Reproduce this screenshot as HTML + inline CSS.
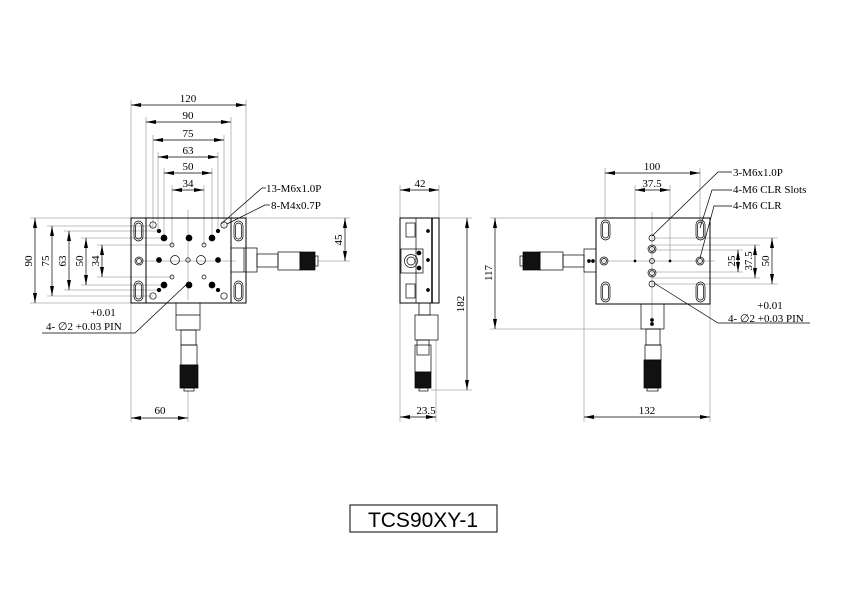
<!DOCTYPE html>
<html><head><meta charset="utf-8"><style>
html,body{margin:0;padding:0;background:#fff;}
svg{display:block;}
text{font-family:"Liberation Serif",serif;font-size:11px;fill:#000;}
</style></head><body>
<svg width="842" height="595" viewBox="0 0 842 595" xmlns="http://www.w3.org/2000/svg">
<defs>
<marker id="a" viewBox="0 0 10 4" refX="10" refY="2" markerWidth="10" markerHeight="4" orient="auto-start-reverse" markerUnits="userSpaceOnUse"><path d="M0,0 L10,2 L0,4z" fill="#000"/></marker>
</defs>
<g stroke="#000" stroke-width="0.7" fill="none">
<g stroke="#aaa" stroke-width="0.8">
<line x1="131" y1="100" x2="131" y2="218"/><line x1="246" y1="100" x2="246" y2="218"/>
<line x1="146" y1="117" x2="146" y2="218"/><line x1="231" y1="117" x2="231" y2="218"/>
<line x1="153" y1="135" x2="153" y2="228"/><line x1="224" y1="135" x2="224" y2="228"/>
<line x1="158" y1="152" x2="158" y2="231"/><line x1="218" y1="152" x2="218" y2="231"/>
<line x1="164" y1="168" x2="164" y2="238"/><line x1="212" y1="168" x2="212" y2="238"/>
<line x1="172" y1="185" x2="172" y2="245"/><line x1="204" y1="185" x2="204" y2="245"/>
<line x1="30" y1="218" x2="131" y2="218"/><line x1="30" y1="303" x2="131" y2="303"/>
<line x1="47" y1="226" x2="153" y2="226"/><line x1="47" y1="296" x2="153" y2="296"/>
<line x1="64" y1="231" x2="159" y2="231"/><line x1="64" y1="290" x2="159" y2="290"/>
<line x1="81" y1="238" x2="164" y2="238"/><line x1="81" y1="285" x2="164" y2="285"/>
<line x1="97" y1="245" x2="172" y2="245"/><line x1="97" y1="277" x2="172" y2="277"/>
<line x1="246" y1="218" x2="350" y2="218"/><line x1="318" y1="261" x2="350" y2="261"/>
<line x1="131" y1="303" x2="131" y2="422"/><line x1="188" y1="390" x2="188" y2="422"/>
<line x1="140" y1="261" x2="236" y2="261"/><line x1="188" y1="210" x2="188" y2="300"/>
</g>
<line x1="131" y1="105" x2="246" y2="105" marker-start="url(#a)" marker-end="url(#a)"/>
<line x1="146" y1="122" x2="231" y2="122" marker-start="url(#a)" marker-end="url(#a)"/>
<line x1="153" y1="140" x2="224" y2="140" marker-start="url(#a)" marker-end="url(#a)"/>
<line x1="158" y1="157" x2="218" y2="157" marker-start="url(#a)" marker-end="url(#a)"/>
<line x1="164" y1="173" x2="212" y2="173" marker-start="url(#a)" marker-end="url(#a)"/>
<line x1="172" y1="190" x2="204" y2="190" marker-start="url(#a)" marker-end="url(#a)"/>
<line x1="35" y1="218" x2="35" y2="303" marker-start="url(#a)" marker-end="url(#a)"/>
<line x1="52" y1="226" x2="52" y2="296" marker-start="url(#a)" marker-end="url(#a)"/>
<line x1="69" y1="231" x2="69" y2="290" marker-start="url(#a)" marker-end="url(#a)"/>
<line x1="86" y1="238" x2="86" y2="285" marker-start="url(#a)" marker-end="url(#a)"/>
<line x1="102" y1="245" x2="102" y2="277" marker-start="url(#a)" marker-end="url(#a)"/>
<line x1="345" y1="218" x2="345" y2="261" marker-start="url(#a)" marker-end="url(#a)"/>
<line x1="131" y1="418" x2="188" y2="418" marker-start="url(#a)" marker-end="url(#a)"/>
<rect x="131" y="218" width="115" height="85" stroke-width="1"/>
<line x1="146" y1="218" x2="146" y2="303" stroke-width="1"/>
<line x1="231" y1="218" x2="231" y2="303" stroke-width="1"/>
<rect x="134" y="221" width="9" height="20" rx="4.5"/><rect x="135.5" y="223" width="6" height="16" rx="3"/>
<rect x="134" y="281" width="9" height="20" rx="4.5"/><rect x="135.5" y="283" width="6" height="16" rx="3"/>
<circle cx="139" cy="261" r="4"/><circle cx="139" cy="261" r="2.5"/>
<rect x="234" y="221" width="9" height="20" rx="4.5"/><rect x="235.5" y="223" width="6" height="16" rx="3"/>
<rect x="234" y="281" width="9" height="20" rx="4.5"/><rect x="235.5" y="283" width="6" height="16" rx="3"/>
<circle cx="153" cy="225" r="3.2"/><circle cx="224" cy="225" r="3.2"/>
<circle cx="153" cy="296" r="3.2"/><circle cx="224" cy="296" r="3.2"/>
<circle cx="172" cy="245" r="2"/><circle cx="204" cy="245" r="2"/>
<circle cx="172" cy="277" r="2"/><circle cx="204" cy="277" r="2"/>
<circle cx="175" cy="260" r="4.5"/><circle cx="201" cy="260" r="4.5"/><circle cx="188" cy="260" r="2.2"/>
<g fill="#000">
<circle cx="164" cy="238" r="3"/><circle cx="189" cy="238" r="3"/><circle cx="212" cy="238" r="3"/>
<circle cx="164" cy="285" r="3"/><circle cx="189" cy="285" r="3"/><circle cx="212" cy="285" r="3"/>
<circle cx="159" cy="231" r="1.8"/><circle cx="218" cy="231" r="1.8"/>
<circle cx="159" cy="290" r="1.8"/><circle cx="218" cy="290" r="1.8"/>
<circle cx="159" cy="260" r="2.5"/><circle cx="218" cy="260" r="2.5"/>
</g>
<rect x="231" y="248" width="26" height="24"/><line x1="244" y1="248" x2="244" y2="272"/>
<rect x="257" y="254" width="21" height="13"/>
<rect x="278" y="252" width="22" height="18"/>
<rect x="300" y="252" width="15" height="18" fill="#111"/>
<rect x="315" y="256" width="3" height="10"/>
<rect x="176" y="303" width="24" height="27"/><line x1="176" y1="315" x2="200" y2="315"/>
<rect x="181" y="330" width="15" height="15"/>
<rect x="181" y="345" width="16" height="20"/>
<rect x="180" y="365" width="18" height="23" fill="#111"/>
<rect x="184" y="388" width="10" height="3"/>
<polyline points="221,224 262,188 266,188"/>
<polyline points="227,224 265,205 270,205"/>
<polyline points="189,282 135,333 42,333"/>
<g stroke="#aaa" stroke-width="0.8">
<line x1="400" y1="185" x2="400" y2="218"/><line x1="439" y1="185" x2="439" y2="218"/>
<line x1="439" y1="218" x2="472" y2="218"/><line x1="431" y1="390" x2="472" y2="390"/>
<line x1="400" y1="303" x2="400" y2="422"/><line x1="436" y1="340" x2="436" y2="422"/>
</g>
<line x1="400" y1="190" x2="439" y2="190" marker-start="url(#a)" marker-end="url(#a)"/>
<line x1="467" y1="218" x2="467" y2="390" marker-start="url(#a)" marker-end="url(#a)"/>
<line x1="400" y1="417" x2="436" y2="417" marker-start="url(#a)" marker-end="url(#a)"/>
<rect x="400" y="218" width="39" height="85" stroke-width="1"/>
<line x1="432" y1="218" x2="432" y2="303" stroke-width="1.5"/>
<line x1="416" y1="218" x2="416" y2="303"/>
<rect x="406" y="223" width="9" height="14"/><rect x="406" y="284" width="9" height="14"/>
<rect x="401" y="249" width="22" height="24"/><circle cx="411" cy="261" r="6.5"/><circle cx="411" cy="261" r="4"/>
<g fill="#000"><circle cx="419" cy="253" r="2"/><circle cx="419" cy="268" r="2"/>
<circle cx="428" cy="231" r="1.5"/><circle cx="428" cy="260" r="1.5"/><circle cx="428" cy="290" r="1.5"/></g>
<rect x="419" y="303" width="11" height="12"/>
<rect x="415" y="315" width="23" height="25"/>
<rect x="417" y="340" width="12" height="15"/>
<rect x="415" y="345" width="16" height="27"/>
<rect x="415" y="372" width="16" height="16" fill="#111"/>
<rect x="419" y="388" width="9" height="3"/>
<g stroke="#aaa" stroke-width="0.8">
<line x1="605" y1="168" x2="605" y2="218"/><line x1="700" y1="168" x2="700" y2="225"/>
<line x1="635" y1="185" x2="635" y2="261"/><line x1="670" y1="185" x2="670" y2="261"/>
<line x1="490" y1="218" x2="596" y2="218"/><line x1="490" y1="329" x2="641" y2="329"/>
<line x1="584" y1="272" x2="584" y2="422"/><line x1="710" y1="304" x2="710" y2="422"/>
<line x1="652" y1="238" x2="778" y2="238"/><line x1="652" y1="284" x2="778" y2="284"/>
<line x1="652" y1="245" x2="760" y2="245"/><line x1="652" y1="278" x2="760" y2="278"/>
<line x1="652" y1="250" x2="743" y2="250"/><line x1="652" y1="272" x2="743" y2="272"/>
<line x1="603" y1="261" x2="715" y2="261"/><line x1="652" y1="212" x2="652" y2="320"/>
</g>
<line x1="605" y1="173" x2="700" y2="173" marker-start="url(#a)" marker-end="url(#a)"/>
<line x1="635" y1="190" x2="670" y2="190" marker-start="url(#a)" marker-end="url(#a)"/>
<line x1="495" y1="218" x2="495" y2="329" marker-start="url(#a)" marker-end="url(#a)"/>
<line x1="584" y1="417" x2="710" y2="417" marker-start="url(#a)" marker-end="url(#a)"/>
<line x1="738" y1="250" x2="738" y2="272" marker-start="url(#a)" marker-end="url(#a)"/>
<line x1="755" y1="245" x2="755" y2="278" marker-start="url(#a)" marker-end="url(#a)"/>
<line x1="772" y1="238" x2="772" y2="284" marker-start="url(#a)" marker-end="url(#a)"/>
<rect x="596" y="218" width="114" height="86" stroke-width="1"/>
<rect x="601" y="220" width="9" height="20" rx="4.5"/><rect x="602.5" y="222" width="6" height="16" rx="3"/>
<rect x="601" y="282" width="9" height="20" rx="4.5"/><rect x="602.5" y="284" width="6" height="16" rx="3"/>
<rect x="696" y="220" width="9" height="20" rx="4.5"/><rect x="697.5" y="222" width="6" height="16" rx="3"/>
<rect x="696" y="282" width="9" height="20" rx="4.5"/><rect x="697.5" y="284" width="6" height="16" rx="3"/>
<circle cx="604" cy="261" r="4"/><circle cx="604" cy="261" r="2.5"/>
<circle cx="700" cy="261" r="4"/><circle cx="700" cy="261" r="2.5"/>
<circle cx="652" cy="238" r="3"/><circle cx="652" cy="249" r="4"/><circle cx="652" cy="249" r="2.5"/>
<circle cx="652" cy="261" r="2.5"/>
<circle cx="652" cy="273" r="4"/><circle cx="652" cy="273" r="2.5"/><circle cx="652" cy="284" r="3"/>
<rect x="584" y="249" width="12" height="23"/>
<g fill="#000"><circle cx="589" cy="261" r="1.5"/><circle cx="593" cy="261" r="1.5"/>
<circle cx="652" cy="320" r="1.5"/><circle cx="652" cy="324" r="1.5"/>
<circle cx="635" cy="261" r="1"/><circle cx="670" cy="261" r="1"/></g>
<rect x="563" y="255" width="21" height="12"/>
<rect x="540" y="252" width="23" height="18"/>
<rect x="523" y="252" width="17" height="18" fill="#111"/>
<rect x="520" y="256" width="3" height="10"/>
<rect x="641" y="304" width="23" height="25"/>
<rect x="646" y="329" width="14" height="16"/>
<rect x="645" y="345" width="16" height="15"/>
<rect x="644" y="360" width="17" height="28" fill="#111"/>
<rect x="647" y="388" width="11" height="3"/>
<polyline points="652,236 718,172 732,172"/>
<polyline points="700,228 712,190 732,190"/>
<polyline points="700,258 714,206 732,206"/>
<polyline points="654,283 718,323 810,323"/>
<rect x="350" y="505" width="147" height="27" stroke-width="1"/>
</g>
<g>
<text x="188" y="102" text-anchor="middle">120</text>
<text x="188" y="119" text-anchor="middle">90</text>
<text x="188" y="137" text-anchor="middle">75</text>
<text x="188" y="154" text-anchor="middle">63</text>
<text x="188" y="170" text-anchor="middle">50</text>
<text x="188" y="187" text-anchor="middle">34</text>
<text transform="translate(32,261) rotate(-90)" text-anchor="middle">90</text>
<text transform="translate(49,261) rotate(-90)" text-anchor="middle">75</text>
<text transform="translate(66,261) rotate(-90)" text-anchor="middle">63</text>
<text transform="translate(83,261) rotate(-90)" text-anchor="middle">50</text>
<text transform="translate(99,261) rotate(-90)" text-anchor="middle">34</text>
<text transform="translate(342,240) rotate(-90)" text-anchor="middle">45</text>
<text x="160" y="414" text-anchor="middle">60</text>
<text x="266" y="192">13-M6x1.0P</text>
<text x="271" y="209">8-M4x0.7P</text>
<text x="103" y="316" text-anchor="middle">+0.01</text>
<text x="46" y="330">4- ∅2 +0.03 PIN</text>
<text x="420" y="187" text-anchor="middle">42</text>
<text transform="translate(464,304) rotate(-90)" text-anchor="middle">182</text>
<text x="426" y="414" text-anchor="middle">23.5</text>
<text x="652" y="170" text-anchor="middle">100</text>
<text x="652" y="187" text-anchor="middle">37.5</text>
<text transform="translate(492,273) rotate(-90)" text-anchor="middle">117</text>
<text x="647" y="414" text-anchor="middle">132</text>
<text transform="translate(735,261) rotate(-90)" text-anchor="middle">25</text>
<text transform="translate(752,261) rotate(-90)" text-anchor="middle">37.5</text>
<text transform="translate(769,261) rotate(-90)" text-anchor="middle">50</text>
<text x="733" y="176">3-M6x1.0P</text>
<text x="733" y="193">4-M6 CLR Slots</text>
<text x="733" y="209">4-M6 CLR</text>
<text x="770" y="309" text-anchor="middle">+0.01</text>
<text x="728" y="322">4- ∅2 +0.03 PIN</text>
<text x="423" y="527" text-anchor="middle" style="font-family:'Liberation Sans',sans-serif;font-size:21px;">TCS90XY-1</text>
</g>
</svg>
</body></html>
